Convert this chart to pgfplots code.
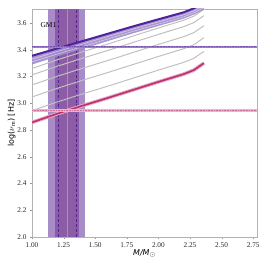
\documentclass[border=0pt]{standalone}
\usepackage{fontspec}
\setmainfont{Liberation Serif}
\newfontfamily\sans{DejaVu Sans}
\usepackage{pgfplots}
\pgfplotsset{compat=1.18}
\definecolor{outerband}{RGB}{168,140,200}
\definecolor{innerband}{RGB}{140,92,165}
\definecolor{darkpurple}{RGB}{80,35,155}
\definecolor{lightpurple}{RGB}{160,140,205}
\definecolor{hpurple}{RGB}{120,80,180}
\definecolor{magentaline}{RGB}{185,50,110}
\definecolor{magentahalo}{RGB}{232,165,198}
\definecolor{pinkband}{RGB}{238,175,205}
\definecolor{centerpink}{RGB}{228,120,145}
\definecolor{trackgray}{RGB}{192,192,192}
\begin{document}
\begin{tikzpicture}[x=1bp,y=1bp]
\path[use as bounding box] (0,0) rectangle (266,266);
\begin{axis}[
  at={(32bp,29bp)}, anchor=south west,
  width=225bp, height=228bp, scale only axis,
  xmin=1.0, xmax=2.78, ymin=2.0, ymax=3.705,
  xtick={1.00,1.25,1.50,1.75,2.00,2.25,2.50,2.75},
  ytick={2.0,2.2,2.4,2.6,2.8,3.0,3.2,3.4,3.6},
  xticklabel style={/pgf/number format/.cd,fixed,fixed zerofill,precision=2},
  yticklabel style={/pgf/number format/.cd,fixed,fixed zerofill,precision=1},
  /pgf/number format/assume math mode=true,
  ticklabel style={font=\fontsize{7.3}{8}\selectfont, text=black!85},
  tick align=outside, major tick length=2bp,
  xtick pos=left, ytick pos=left,
  axis line style={black!30, line width=0.8bp},
  tick style={black!40},
  xlabel={\sans\itshape M/M$_{\odot}$},
  ylabel={\sans log($\nu_{\mathrm{m}}$) [Hz]},
  label style={font=\fontsize{8}{9}\selectfont},
  xlabel style={yshift=5bp},
  ylabel style={yshift=-5bp},
  clip=true,
]
% vertical mass bands
\addplot[fill=outerband, draw=none] coordinates {(1.13,2.0) (1.42,2.0) (1.42,3.705) (1.13,3.705)} -- cycle;
\addplot[fill=innerband, draw=none] coordinates {(1.185,2.0) (1.375,2.0) (1.375,3.705) (1.185,3.705)} -- cycle;
\addplot[darkpurple, densely dashed, line width=0.4bp] coordinates {(1.205,2.0) (1.205,3.705)};
\addplot[darkpurple, densely dashed, line width=0.4bp] coordinates {(1.35,2.0) (1.35,3.705)};
\addplot[centerpink, line width=0.6bp] coordinates {(1.28,2.0) (1.28,3.705)};
% gray tracks
\addplot[trackgray, line width=1bp] coordinates {(1.0,2.945) (1.2,3.010) (1.4,3.070) (1.6,3.128) (1.8,3.188) (2.0,3.248) (2.2,3.306) (2.28,3.336) (2.36,3.388)};
\addplot[trackgray, line width=1bp] coordinates {(1.0,3.047) (1.2,3.112) (1.4,3.172) (1.6,3.230) (1.8,3.290) (2.0,3.350) (2.2,3.408) (2.28,3.438) (2.36,3.490)};
\addplot[trackgray, line width=1bp] coordinates {(1.0,3.137) (1.2,3.202) (1.4,3.262) (1.6,3.320) (1.8,3.380) (2.0,3.440) (2.2,3.498) (2.28,3.528) (2.36,3.580)};
\addplot[trackgray, line width=1bp] coordinates {(1.0,3.212) (1.2,3.277) (1.4,3.337) (1.6,3.395) (1.8,3.455) (2.0,3.515) (2.2,3.573) (2.28,3.603) (2.36,3.655)};
\addplot[trackgray, line width=1bp] coordinates {(1.0,3.260) (1.2,3.325) (1.4,3.385) (1.6,3.443) (1.8,3.503) (2.0,3.563) (2.2,3.621) (2.28,3.651) (2.36,3.703)};
% purple band of tracks
\addplot[fill=lightpurple, draw=none, fill opacity=0.9] coordinates {(1.0,3.355) (1.2,3.41) (1.4,3.465) (1.6,3.52) (1.8,3.575) (2.0,3.628) (2.2,3.68) (2.28,3.71) (2.36,3.75) (2.36,3.70) (2.28,3.663) (2.2,3.633) (2.0,3.578) (1.8,3.523) (1.6,3.465) (1.4,3.407) (1.2,3.35) (1.0,3.29)} -- cycle;
\addplot[white!60!lightpurple, line width=0.5bp] coordinates {(1.0,3.31) (1.2,3.368) (1.4,3.424) (1.6,3.481) (1.8,3.538) (2.0,3.592) (2.2,3.646) (2.28,3.677) (2.36,3.715)};
\addplot[white!60!lightpurple, line width=0.5bp] coordinates {(1.0,3.33) (1.2,3.387) (1.4,3.443) (1.6,3.499) (1.8,3.555) (2.0,3.609) (2.2,3.662) (2.28,3.692) (2.36,3.73)};
\addplot[darkpurple, line width=2bp] coordinates {(1.0,3.355) (1.2,3.41) (1.4,3.465) (1.6,3.52) (1.8,3.575) (2.0,3.628) (2.2,3.68) (2.28,3.71) (2.36,3.75)};
% magenta track
\addplot[magentahalo, line width=3.6bp] coordinates {(1.0,2.857) (1.2,2.922) (1.4,2.982) (1.6,3.040) (1.8,3.100) (2.0,3.160) (2.2,3.218) (2.28,3.248) (2.36,3.300)};
\addplot[magentaline, line width=1.6bp] coordinates {(1.0,2.857) (1.2,2.922) (1.4,2.982) (1.6,3.040) (1.8,3.100) (2.0,3.160) (2.2,3.218) (2.28,3.248) (2.36,3.300)};
% horizontal observed lines
\addplot[fill=pinkband, draw=none] coordinates {(1.0,2.933) (2.78,2.933) (2.78,2.957) (1.0,2.957)} -- cycle;
\addplot[magentaline!70, densely dotted, line width=0.6bp] coordinates {(1.0,2.945) (2.78,2.945)};
\addplot[hpurple!75, line width=1.8bp] coordinates {(1.0,3.423) (2.78,3.423)};
\addplot[darkpurple!80, densely dotted, line width=0.6bp] coordinates {(1.0,3.423) (2.78,3.423)};
\node[anchor=west, font=\fontsize{7.5}{8}\selectfont] at (axis cs:1.04,3.585) {GM1};
\end{axis}
\end{tikzpicture}
\end{document}
